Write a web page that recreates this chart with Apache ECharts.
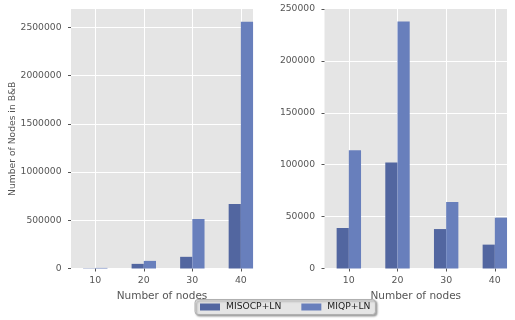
<!DOCTYPE html>
<html>
<head>
<meta charset="utf-8">
<script src="https://cdn.jsdelivr.net/npm/echarts@6/dist/echarts.min.js"></script>
<style>
  html, body { margin: 0; padding: 0; background: #fff; }
  #chart { width: 515px; height: 320px; }
</style>
</head>
<body>
<div id="chart"></div>
<script>
const categories = ['10', '20', '30', '40'];
const seriesNames = ['MISOCP+LN', 'MIQP+LN'];
const leftMisocp = [3000, 48000, 121000, 668000];
const leftMiqp = [6000, 79000, 513000, 2559000];
const rightMisocp = [39000, 102000, 38000, 23000];
const rightMiqp = [114000, 238000, 64000, 49000];

const FONT = 'DejaVu Sans';
const TXT = '#555555';
const colors = ['#5266a0', '#687fbc'];

function toPts(arr) { return categories.map((c, i) => [i, arr[i]]); }

function xAxis(gridIndex) {
  return {
    type: 'value', gridIndex: gridIndex, min: -0.5, max: 3.25,
    name: 'Number of nodes', nameLocation: 'middle', nameGap: 17.5,
    nameTextStyle: { color: TXT, fontFamily: FONT, fontSize: 10.5 },
    axisLine: { show: false, onZero: false },
    axisTick: { show: true, length: 3, lineStyle: { color: TXT }, customValues: [0, 1, 2, 3] },
    axisLabel: { color: TXT, fontFamily: FONT, fontSize: 9.4, margin: 8,
      customValues: [0, 1, 2, 3], formatter: v => categories[Math.round(v)] },
    splitLine: { show: true, lineStyle: { color: '#ffffff', width: 1 } }
  };
}
function yAxis(gridIndex, max, interval, name, showMax) {
  return {
    type: 'value', gridIndex: gridIndex, min: 0, max: max, interval: interval,
    name: name, nameLocation: 'middle', nameGap: 53,
    nameTextStyle: { color: TXT, fontFamily: FONT, fontSize: 9.2 },
    axisLine: { show: false, onZero: false },
    axisTick: { show: true, length: 3, lineStyle: { color: TXT } },
    axisLabel: { color: TXT, fontFamily: FONT, fontSize: 9.2, margin: 9.5, showMaxLabel: showMax,
      formatter: v => String(v) },
    splitLine: { show: true, showMaxLine: false, lineStyle: { color: '#ffffff', width: 1 } }
  };
}
function bar(name, data, xi, yi, ci) {
  return {
    type: 'bar', name: name, xAxisIndex: xi, yAxisIndex: yi,
    data: toPts(data), barWidth: 12.2, barGap: '0%',
    itemStyle: { color: colors[ci] }, z: 3
  };
}

const chart = echarts.init(document.getElementById('chart'), null, { renderer: 'canvas' });
chart.setOption({
  animation: false,
  backgroundColor: '#ffffff',
  grid: [
    { left: 71, top: 9, width: 182, height: 259.5, show: true, backgroundColor: '#e5e5e5', borderWidth: 0 },
    { left: 324.5, top: 9, width: 182.5, height: 259.5, show: true, backgroundColor: '#e5e5e5', borderWidth: 0 }
  ],
  xAxis: [xAxis(0), xAxis(1)],
  yAxis: [
    yAxis(0, 2690000, 500000, 'Number of Nodes in B&B', false),
    yAxis(1, 250000, 50000, '', true)
  ],
  legend: {
    data: seriesNames,
    left: 195, top: 299.5,
    padding: [3, 5],
    itemWidth: 20, itemHeight: 7, itemGap: 20,
    icon: 'rect',
    backgroundColor: '#e5e5e5',
    borderColor: '#b0b0b0', borderWidth: 1, borderRadius: 3,
    shadowBlur: 2, shadowOffsetX: 1.5, shadowOffsetY: 1.5, shadowColor: 'rgba(0,0,0,0.35)',
    textStyle: { color: '#222', fontFamily: FONT, fontSize: 9.2, padding: [0, 0, 0, 1] }
  },
  series: [
    bar(seriesNames[0], leftMisocp, 0, 0, 0),
    bar(seriesNames[1], leftMiqp, 0, 0, 1),
    bar(seriesNames[0], rightMisocp, 1, 1, 0),
    bar(seriesNames[1], rightMiqp, 1, 1, 1)
  ]
});
</script>
</body>
</html>
